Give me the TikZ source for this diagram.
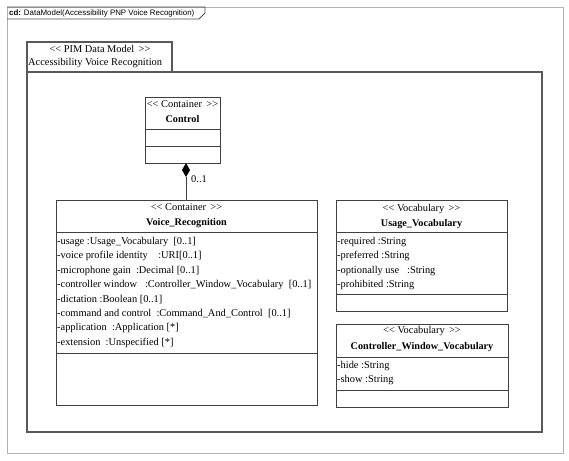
\documentclass[tikz,border=0pt]{standalone}
\usepackage{fontspec}
\setmainfont{Liberation Serif}
\newfontfamily\titlefont{Liberation Sans}
\newcommand\ster[1]{<\kern0pt< #1\ \,>\kern0pt>}
\begin{document}
\begin{tikzpicture}[x=1pt,y=-1pt,
  classbox/.style={draw=black!75, line width=0.9pt},
  frame/.style={draw=black!30, line width=0.9pt},
  pkg/.style={draw=black!65, line width=1.1pt},
  txt/.style={inner sep=0pt, text height=7pt, text depth=2pt, font=\fontsize{10.4}{12}\selectfont},
  attr/.style={txt, anchor=west},
  cname/.style={txt, font=\fontsize{10.2}{12}\selectfont\bfseries},
  ]
\useasboundingbox (0,0) rectangle (569,460);
% outer frame
\draw[frame] (7,7) rectangle (563,453);
\draw[draw=black!70, line width=0.8pt] (7,7) -- (205,7) -- (205,13) -- (199,19) -- (7,19);
\node[anchor=west, inner sep=0pt, font=\titlefont\fontsize{7.9}{9}\selectfont] (title) at (9,13) {\textbf{cd:} DataModel(Accessibility PNP Voice Recognition)};
% package
\draw[pkg] (27,42) rectangle (172,72);
\draw[pkg] (27,72) rectangle (542,432);
\node[txt] (pkgster) at (100,50) {\ster{PIM Data Model}};
\node[attr] (pkgname) at (28,63) {Accessibility Voice Recognition};
% Control
\node[classbox, minimum width=75pt, minimum height=66pt, inner sep=0pt, anchor=north west] (control) at (145,97) {};
\draw[classbox] (145,129) -- (220,129) (145,146) -- (220,146);
\node[txt] (cster) at (182.5,105) {\ster{Container}};
\node[cname] (cname) at (182.5,120) {Control};
% Voice_Recognition
\node[classbox, minimum width=261pt, minimum height=205pt, inner sep=0pt, anchor=north west] (vr) at (56,200) {};
\draw[classbox] (56,232) -- (317,232) (56,353) -- (317,353);
\node[txt] (vrster) at (186.5,208) {\ster{Container}};
\node[cname] (vrname) at (186.5,223) {Voice\_Recognition};
\node[attr] (a1) at (57,242) {-usage :Usage\_Vocabulary\ \ [0..1]};
\node[attr] (a2) at (57,256.4) {-voice profile identity\ \ \ \ :URI[0..1]};
\node[attr] (a3) at (57,270.8) {-microphone gain\ \ :Decimal [0..1]};
\node[attr] (a4) at (57,285.2) {-controller window\ \ \ :Controller\_Window\_Vocabulary\ \ [0..1]};
\node[attr] (a5) at (57,299.6) {-dictation :Boolean [0..1]};
\node[attr] (a6) at (57,314) {-command and control\ \ :Command\_And\_Control\ \ [0..1]};
\node[attr] (a7) at (57,328.4) {-application\ \ :Application [*]};
\node[attr] (a8) at (57,342.8) {-extension\ \ :Unspecified [*]};
% Usage_Vocabulary
\node[classbox, minimum width=171pt, minimum height=111pt, inner sep=0pt, anchor=north west] (uv) at (336,200) {};
\draw[classbox] (336,232) -- (507,232) (336,294) -- (507,294);
\node[txt] (uvster) at (421.5,209) {\ster{Vocabulary}};
\node[cname] (uvname) at (421.5,224) {Usage\_Vocabulary};
\node[attr] (u1) at (337,242) {-required :String};
\node[attr] (u2) at (337,256.4) {-preferred :String};
\node[attr] (u3) at (337,270.8) {-optionally use\ \ \ :String};
\node[attr] (u4) at (337,285.2) {-prohibited :String};
% Controller_Window_Vocabulary
\node[classbox, minimum width=172pt, minimum height=83pt, inner sep=0pt, anchor=north west] (cwv) at (336,324) {};
\draw[classbox] (336,357) -- (508,357) (336,390) -- (508,390);
\node[txt] (cwvster) at (422,331) {\ster{Vocabulary}};
\node[cname] (cwvname) at (422,347) {Controller\_Window\_Vocabulary};
\node[attr] (w1) at (337,366) {-hide :String};
\node[attr] (w2) at (337,379.5) {-show :String};
% composition
\coordinate (dtop) at (186,163);
\coordinate (dbot) at (186,177);
\fill[black] (186,163) -- (190,170) -- (186,177) -- (182,170) -- cycle;
\draw[classbox] (dbot) -- (dbot |- vr.north);
\node[txt, anchor=west] (mult) at (191,180) {0..1};
\end{tikzpicture}
\end{document}
